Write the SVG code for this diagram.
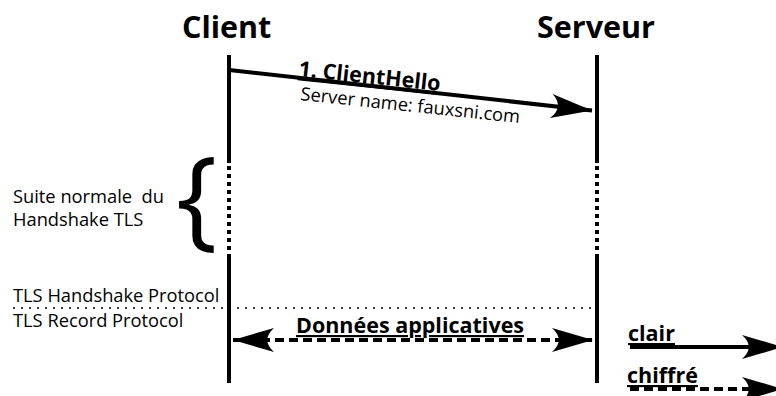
<svg xmlns="http://www.w3.org/2000/svg" width="776" height="396" viewBox="0 0 776 396">
<style>
text{font-family:"Open Sans","Noto Sans","DejaVu Sans",sans-serif;fill:#000}
.title{font-size:30.5px;font-weight:bold}
.lbl{font-size:18.3px}
.msg{font-size:21.5px;font-weight:bold;text-decoration:underline}
.life{stroke:#000;stroke-width:4;fill:none}
.dots{stroke:#000;stroke-width:4;stroke-dasharray:4 4;fill:none}
.sol{stroke:#000;stroke-width:4;fill:none}
.dash{stroke:#000;stroke-width:4;stroke-dasharray:9 5;fill:none}
.sep{stroke:#000;stroke-width:1.5;stroke-dasharray:2 6;fill:none}
</style>
<defs>
<marker id="ah" markerUnits="userSpaceOnUse" viewBox="-42 -13 44 26" refX="0" refY="0" markerWidth="44" markerHeight="26" orient="auto-start-reverse">
<path d="M0,0 L-41,-12 C-32,-4 -32,4 -41,12 Z" fill="#000"/>
</marker>
</defs>
<g id="client">
<text class="title" x="182" y="38">Client</text>
<path class="life" d="M229,55 V163"/>
<path class="dots" d="M229,166 V252"/>
<path class="life" d="M229,254 V383"/>
</g>
<g id="serveur">
<text class="title" x="537" y="38">Serveur</text>
<path class="life" d="M597,55 V163"/>
<path class="dots" d="M597,166 V252"/>
<path class="life" d="M597,254 V383"/>
</g>
<g id="handshake-note">
<text class="lbl" x="13" y="203" xml:space="preserve">Suite normale  du</text>
<text class="lbl" x="13" y="226">Handshake TLS</text>
<text x="176" y="236" style="font-size:110px">{</text>
</g>
<g id="protocol-labels">
<text class="lbl" x="13" y="302">TLS Handshake Protocol</text>
<text class="lbl" x="13" y="327">TLS Record Protocol</text>
<path class="sep" d="M13,308 H597"/>
</g>
<g id="legend">
<text class="msg" x="628" y="341">clair</text>
<text class="msg" x="627" y="383">chiffré</text>
</g>
<g id="connectors">
<path class="sol" d="M229,70 L592,110.5" marker-end="url(#ah)"/>
<path class="dash" d="M233,340 H593" marker-start="url(#ah)" marker-end="url(#ah)"/>
<path class="sol" d="M630,347 H783" marker-end="url(#ah)"/>
<path class="dash" d="M630,389 H783" marker-end="url(#ah)"/>
</g>
<g id="labels">
<text class="msg" transform="translate(298,76) rotate(6)" x="0" y="0">1. ClientHello</text>
<text class="lbl" transform="translate(300,100) rotate(6)" x="0" y="0">Server name: fauxsni.com</text>
<text class="msg" x="296" y="333">Données applicatives</text>
</g>
</svg>
